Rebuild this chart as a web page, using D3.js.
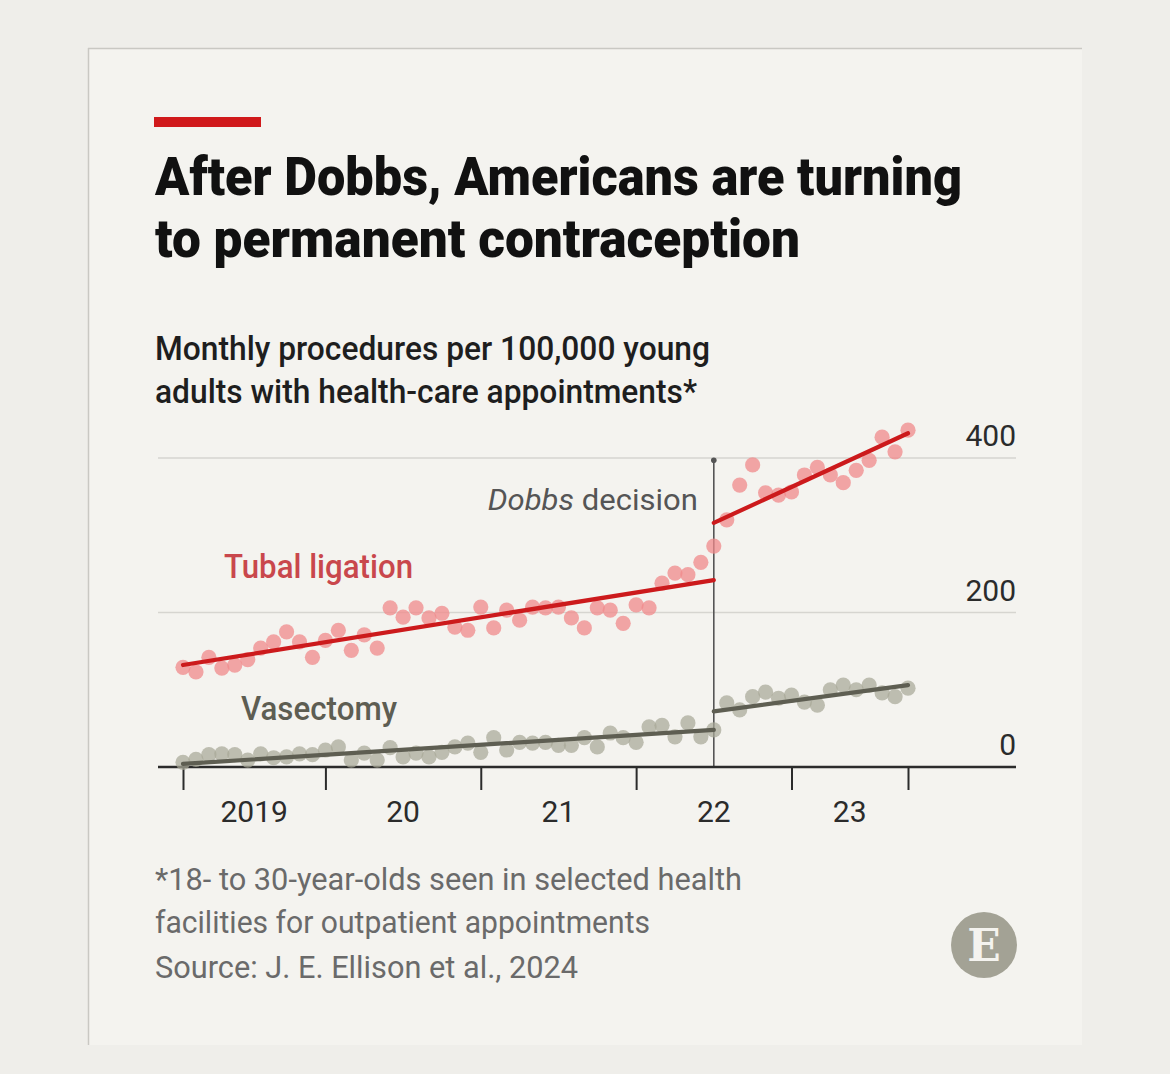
<!DOCTYPE html>
<html>
<head>
<meta charset="utf-8">
<script src="https://cdn.jsdelivr.net/npm/d3@7"></script>
<style>
  html, body { margin: 0; padding: 0; background: #efeeea; }
  svg { display: block; }
</style>
</head>
<body>
<svg id="chart" width="1170" height="1074"></svg>
<script>
// ---------------- DATA ----------------
// Monthly index 0 = Jan 2019 ... 56 = Sep 2023
const months = d3.timeMonth.range(new Date(2019, 0, 1), new Date(2023, 9, 1));

const tubalLigation = [
  129, 123, 142, 128, 132, 139, 154, 162, 175, 162,
  142, 164, 177, 151, 171, 154, 206, 194, 206, 193,
  199, 181, 177, 207, 180, 203, 190, 207, 206, 207,
  193, 180, 206, 203, 186, 210, 206, 238, 251, 249,
  265, 286, 320, 365, 391, 355, 352, 356, 378, 388,
  378, 368, 384, 397, 427, 408, 436
];

const vasectomy = [
  6, 10, 16, 17, 16, 9, 17, 12, 13, 17,
  16, 22, 26, 9, 18, 9, 25, 13, 18, 13,
  19, 26, 31, 19, 38, 22, 32, 31, 32, 28,
  28, 38, 26, 44, 38, 32, 52, 54, 39, 57,
  39, 48, 83, 74, 91, 97, 89, 93, 84, 80,
  100, 106, 100, 106, 96, 91, 102
];

// Trend segments: [startIndex, startValue, endIndex, endValue]
const tubalTrend = [[0, 132, 41, 242], [41, 316, 56, 432]];
const vasectomyTrend = [[0, 4, 41, 48], [41, 72, 56, 106]];

const dobbsIndex = 41;           // June 2022
const yTicks = [0, 200, 400];
const xTickIdx = [0, 11, 23, 35, 47, 56];
const yearLabels = ["2019", "20", "21", "22", "23"];

// ---------------- LAYOUT ----------------
const svg = d3.select("#chart");

// card
svg.append("rect").attr("x", 88).attr("y", 48).attr("width", 994).attr("height", 997)
  .attr("fill", "#f4f3ef");
svg.append("line").attr("x1", 88).attr("x2", 1082).attr("y1", 48.5).attr("y2", 48.5)
  .attr("stroke", "#c9c8c3").attr("stroke-width", 1.5);
svg.append("line").attr("x1", 88.5).attr("x2", 88.5).attr("y1", 48).attr("y2", 1045)
  .attr("stroke", "#c9c8c3").attr("stroke-width", 1.5);

// red bar
svg.append("rect").attr("x", 154).attr("y", 117).attr("width", 107).attr("height", 10)
  .attr("fill", "#d0191b");

const FONT = "Roboto, 'Noto Sans', sans-serif";

function txt(str, x, y, size, weight, color, len, anchor) {
  const t = svg.append("text")
    .attr("x", x).attr("y", y)
    .attr("font-family", FONT)
    .attr("font-size", size)
    .attr("font-weight", weight)
    .attr("fill", color)
    .attr("text-anchor", anchor || "start")
    .text(str);
  if (len) t.attr("textLength", len).attr("lengthAdjust", "spacingAndGlyphs");
  return t;
}

// Title
txt("After Dobbs, Americans are turning", 155, 195, 53, 900, "#111", 807);
txt("to permanent contraception", 155, 257, 53, 900, "#111", 645);

// Subtitle
txt("Monthly procedures per 100,000 young", 155, 360, 34, 500, "#1e1e1e", 555);
txt("adults with health-care appointments*", 155, 403, 34, 500, "#1e1e1e", 542);

// Footnote
txt("*18- to 30-year-olds seen in selected health", 155, 890, 32, 400, "#6a6a6a", 587);
txt("facilities for outpatient appointments", 155, 933, 32, 400, "#6a6a6a", 495);
txt("Source: J. E. Ellison et al., 2024", 155, 978, 32, 400, "#6a6a6a", 423);

// Economist logo
svg.append("circle").attr("cx", 984).attr("cy", 945).attr("r", 33).attr("fill", "#a3a295");
svg.append("text").attr("x", 984).attr("y", 961)
  .attr("text-anchor", "middle")
  .attr("font-family", "'DejaVu Serif', 'Liberation Serif', serif")
  .attr("font-weight", 700).attr("font-size", 44)
  .attr("fill", "#f4f3ef").text("E");

// ---------------- SCALES ----------------
const x = d3.scaleLinear().domain([0, months.length - 1]).range([183, 908]);
const y = d3.scaleLinear().domain([0, 400]).range([767, 458]);
const gridX0 = 158, gridX1 = 1016;

// gridlines
svg.append("g").selectAll("line").data(yTicks.filter(d => d > 0)).join("line")
  .attr("x1", gridX0).attr("x2", gridX1)
  .attr("y1", d => y(d)).attr("y2", d => y(d))
  .attr("stroke", "#d6d5d0").attr("stroke-width", 1.5);

// y labels
svg.append("g").selectAll("text").data(yTicks).join("text")
  .attr("x", gridX1).attr("y", d => y(d) - 12)
  .attr("text-anchor", "end")
  .attr("font-family", FONT).attr("font-size", 30)
  .attr("fill", "#2b2b2b")
  .text(d => d);

// Dobbs line
svg.append("line")
  .attr("x1", x(dobbsIndex)).attr("x2", x(dobbsIndex))
  .attr("y1", y(397)).attr("y2", y(0))
  .attr("stroke", "#555").attr("stroke-width", 1.6);
svg.append("circle").attr("cx", x(dobbsIndex)).attr("cy", y(397)).attr("r", 2.8).attr("fill", "#555");

const dl = svg.append("text")
  .attr("x", x(dobbsIndex) - 16).attr("y", 510)
  .attr("text-anchor", "end")
  .attr("font-family", FONT).attr("font-size", 29)
  .attr("fill", "#555")
  .attr("textLength", 210).attr("lengthAdjust", "spacingAndGlyphs");
dl.append("tspan").attr("font-style", "italic").text("Dobbs");
dl.append("tspan").text(" decision");

// x axis
const xAxis = d3.axisBottom(x).tickValues(xTickIdx).tickSize(23).tickFormat("");
const gx = svg.append("g").attr("transform", `translate(0,${y(0)})`).call(xAxis);
gx.select(".domain").remove();
gx.selectAll(".tick line").attr("stroke", "#2b2b2b").attr("stroke-width", 2);
svg.append("line").attr("x1", gridX0).attr("x2", gridX1)
  .attr("y1", y(0)).attr("y2", y(0))
  .attr("stroke", "#2b2b2b").attr("stroke-width", 2.5);

svg.append("g").selectAll("text").data(yearLabels).join("text")
  .attr("x", (d, i) => (x(xTickIdx[i]) + x(xTickIdx[i + 1])) / 2)
  .attr("y", 822)
  .attr("text-anchor", "middle")
  .attr("font-family", FONT).attr("font-size", 30)
  .attr("fill", "#2b2b2b")
  .text(d => d);

// dots
svg.append("g").selectAll("circle").data(vasectomy).join("circle")
  .attr("cx", (d, i) => x(i)).attr("cy", d => y(d)).attr("r", 7.6)
  .attr("fill", "#a8a797").attr("fill-opacity", 0.72);
svg.append("g").selectAll("circle").data(tubalLigation).join("circle")
  .attr("cx", (d, i) => x(i)).attr("cy", d => y(d)).attr("r", 7.6)
  .attr("fill", "#f0898b").attr("fill-opacity", 0.75);

// trend lines
function trend(segs, color) {
  svg.append("g").selectAll("line").data(segs).join("line")
    .attr("x1", d => x(d[0])).attr("y1", d => y(d[1]))
    .attr("x2", d => x(d[2])).attr("y2", d => y(d[3]))
    .attr("stroke", color).attr("stroke-width", 4.2).attr("stroke-linecap", "round");
}
trend(vasectomyTrend, "#5e5e52");
trend(tubalTrend, "#cc1a1c");

// series labels
txt("Tubal ligation", 224, 578, 33, 500, "#c9474c", 189);
txt("Vasectomy", 241, 720, 33, 500, "#5d5d52", 156);
</script>
</body>
</html>
